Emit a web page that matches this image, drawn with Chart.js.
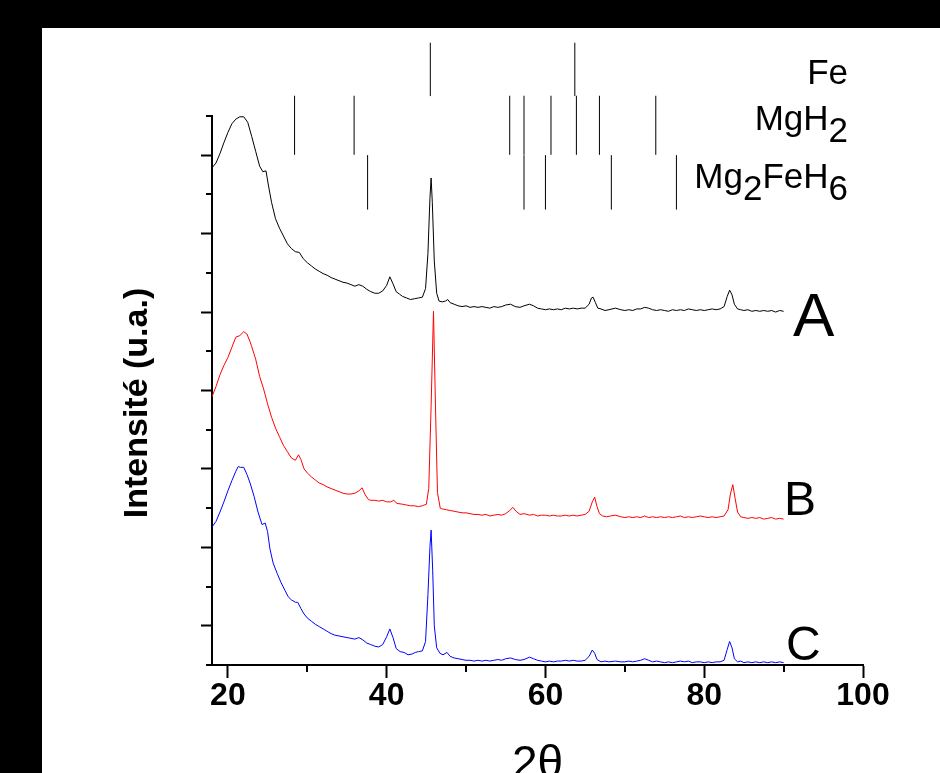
<!DOCTYPE html>
<html>
<head>
<meta charset="utf-8">
<script src="https://cdn.jsdelivr.net/npm/chart.js"></script>
<style>
  html, body { margin: 0; padding: 0; background: #000; width: 940px; height: 773px; overflow: hidden; }
  #frame { position: absolute; left: 42px; top: 28px; width: 898px; height: 745px; background: #fff; }
  canvas { display: block; }
</style>
</head>
<body>
<div id="frame"><canvas id="xrd" width="898" height="745"></canvas></div>
<script>
// XRD patterns (2-theta in degrees, stacked intensity in arbitrary units)
const aX = [18.0,18.5,19.0,19.5,20.0,20.5,21.0,21.5,22.0,22.5,23.0,23.5,24.0,24.4,24.8,25.1,25.5,26.0,26.5,27.0,27.5,28.0,28.5,29.0,29.5,30.0,30.5,31.0,31.5,32.0,32.5,33.0,33.5,34.0,34.5,35.0,35.5,36.0,36.5,37.0,37.5,38.0,38.5,39.0,39.5,40.0,40.4,40.8,41.2,41.6,42.0,42.5,43.0,43.5,44.0,44.5,44.9,45.2,45.45,45.6,45.75,46.0,46.3,46.6,47.0,47.4,47.7,48.0,48.5,49.0,49.5,50.0,50.5,51.0,51.5,52.0,52.5,53.0,53.5,54.0,54.5,55.0,55.6,56.2,56.8,57.3,58.0,58.5,59.0,59.5,60.0,60.5,61.0,61.5,62.0,62.5,63.0,63.5,64.0,64.5,65.0,65.5,65.8,66.0,66.3,66.6,67.0,67.5,68.0,68.8,69.5,70.0,70.5,71.0,71.5,72.0,72.5,73.0,73.5,74.0,74.5,75.0,75.5,76.0,76.5,77.0,77.5,78.0,78.5,79.0,79.5,80.0,80.5,81.0,81.5,82.0,82.5,82.9,83.2,83.5,83.8,84.2,84.6,85.0,85.5,86.0,86.5,87.0,87.5,88.0,88.5,89.0,89.5,90.0];
const aY = [5.84,5.90,6.02,6.16,6.29,6.40,6.46,6.49,6.49,6.42,6.24,6.05,5.86,5.79,5.80,5.62,5.40,5.19,5.07,4.97,4.87,4.81,4.77,4.76,4.68,4.63,4.59,4.55,4.52,4.49,4.47,4.44,4.42,4.40,4.38,4.37,4.35,4.33,4.35,4.33,4.29,4.26,4.24,4.24,4.27,4.34,4.45,4.36,4.26,4.23,4.20,4.18,4.16,4.17,4.18,4.19,4.30,4.75,5.45,5.71,5.40,4.65,4.24,4.14,4.13,4.14,4.16,4.12,4.10,4.08,4.07,4.08,4.06,4.07,4.06,4.07,4.06,4.05,4.07,4.06,4.07,4.09,4.10,4.07,4.06,4.08,4.10,4.08,4.05,4.04,4.03,4.04,4.03,4.04,4.03,4.05,4.04,4.05,4.04,4.05,4.05,4.10,4.18,4.19,4.12,4.05,4.04,4.02,4.03,4.05,4.03,4.02,4.03,4.02,4.04,4.04,4.06,4.05,4.03,4.02,4.03,4.02,4.01,4.03,4.02,4.03,4.02,4.04,4.03,4.02,4.03,4.02,4.03,4.04,4.03,4.04,4.07,4.20,4.28,4.22,4.10,4.04,4.03,4.02,4.03,4.01,4.02,4.01,4.02,4.01,4.02,4.00,4.02,4.01];

const bX = [18.0,18.5,19.0,19.5,20.0,20.5,21.0,21.5,22.0,22.4,22.8,23.0,23.5,24.0,24.5,25.0,25.5,26.0,26.5,27.0,27.5,28.0,28.5,28.9,29.2,29.6,30.0,30.5,31.0,31.5,32.0,32.5,33.0,33.5,34.0,34.5,35.0,35.5,36.0,36.5,36.9,37.3,37.7,38.0,38.5,39.0,39.5,40.0,40.5,40.9,41.3,42.0,42.5,43.0,43.5,44.0,44.5,45.0,45.3,45.6,45.9,46.15,46.4,46.75,47.0,47.5,48.0,48.5,49.0,49.5,50.0,50.5,51.0,51.5,52.0,52.5,53.0,53.5,54.0,54.5,55.0,55.5,55.9,56.3,56.8,57.3,58.0,58.5,59.0,59.5,60.0,60.5,61.0,61.5,62.0,62.5,63.0,63.5,64.0,64.5,65.0,65.5,65.9,66.2,66.5,66.8,67.2,67.7,68.2,68.8,69.5,70.0,70.5,71.0,71.5,72.0,72.5,73.0,73.5,74.0,74.5,75.0,75.5,76.0,76.5,77.0,77.5,78.0,78.5,79.0,79.5,80.0,80.5,81.0,81.5,82.0,82.5,83.0,83.3,83.6,83.9,84.2,84.6,85.0,85.5,86.0,86.5,87.0,87.5,88.0,88.5,89.0,89.5,90.0];
const bY = [2.92,3.05,3.20,3.32,3.42,3.55,3.68,3.70,3.75,3.72,3.62,3.56,3.40,3.18,3.02,2.83,2.66,2.52,2.41,2.30,2.22,2.14,2.11,2.18,2.12,2.00,1.95,1.90,1.86,1.82,1.80,1.77,1.75,1.73,1.71,1.69,1.68,1.68,1.69,1.72,1.76,1.67,1.61,1.60,1.60,1.59,1.60,1.58,1.58,1.60,1.56,1.55,1.54,1.53,1.53,1.52,1.53,1.55,1.75,2.80,4.01,2.80,1.70,1.50,1.49,1.48,1.47,1.46,1.45,1.44,1.44,1.43,1.42,1.42,1.41,1.42,1.40,1.41,1.42,1.41,1.43,1.47,1.51,1.46,1.42,1.43,1.41,1.42,1.40,1.41,1.41,1.40,1.41,1.40,1.40,1.41,1.40,1.41,1.40,1.41,1.42,1.46,1.58,1.64,1.52,1.43,1.40,1.39,1.40,1.41,1.39,1.38,1.39,1.38,1.39,1.38,1.40,1.38,1.39,1.38,1.39,1.38,1.39,1.38,1.39,1.40,1.38,1.39,1.38,1.39,1.40,1.39,1.38,1.39,1.38,1.39,1.40,1.48,1.68,1.80,1.62,1.45,1.39,1.38,1.37,1.38,1.37,1.38,1.36,1.37,1.38,1.36,1.37,1.36];

const cX = [18.0,18.5,19.0,19.5,20.0,20.5,21.0,21.3,21.6,22.0,22.4,22.8,23.3,23.8,24.3,24.7,25.0,25.3,25.7,26.2,26.7,27.2,27.6,28.0,28.5,28.8,29.2,29.6,30.0,30.5,31.0,31.5,32.0,32.5,33.0,33.5,34.0,34.5,35.0,35.5,36.0,36.5,37.0,37.5,38.0,38.5,39.0,39.5,40.0,40.4,40.8,41.2,41.7,42.2,42.7,43.2,43.6,44.0,44.5,44.9,45.2,45.45,45.6,45.8,46.0,46.3,46.7,47.1,47.6,48.0,48.5,49.0,49.5,50.0,50.5,51.0,51.5,52.0,52.5,53.0,53.5,54.0,54.5,55.0,55.6,56.2,56.8,57.3,58.0,58.5,59.0,59.5,60.0,60.5,61.0,61.5,62.0,62.5,63.0,63.5,64.0,64.5,65.0,65.5,65.9,66.2,66.5,67.0,67.5,68.0,68.8,69.5,70.0,70.5,71.0,71.5,72.0,72.5,73.0,73.5,74.0,74.5,75.0,75.5,76.0,76.5,77.0,77.5,78.0,78.5,79.0,79.5,80.0,80.5,81.0,81.5,82.0,82.5,82.9,83.2,83.5,83.8,84.2,84.6,85.0,85.5,86.0,86.5,87.0,87.5,88.0,88.5,89.0,89.5,90.0];
const cY = [1.26,1.33,1.45,1.58,1.72,1.85,1.97,2.03,2.02,2.02,1.93,1.82,1.65,1.45,1.29,1.31,1.20,0.98,0.80,0.67,0.55,0.45,0.37,0.33,0.30,0.30,0.22,0.15,0.10,0.06,0.02,-0.01,-0.04,-0.07,-0.10,-0.12,-0.13,-0.14,-0.15,-0.16,-0.17,-0.15,-0.18,-0.22,-0.24,-0.26,-0.27,-0.24,-0.14,-0.04,-0.15,-0.29,-0.33,-0.34,-0.37,-0.36,-0.34,-0.33,-0.32,-0.20,0.40,1.00,1.22,0.70,0.00,-0.28,-0.35,-0.37,-0.34,-0.39,-0.41,-0.42,-0.43,-0.44,-0.44,-0.45,-0.44,-0.45,-0.44,-0.45,-0.44,-0.43,-0.44,-0.42,-0.41,-0.43,-0.44,-0.43,-0.40,-0.42,-0.44,-0.45,-0.46,-0.45,-0.46,-0.45,-0.45,-0.44,-0.45,-0.44,-0.45,-0.45,-0.44,-0.39,-0.31,-0.35,-0.43,-0.46,-0.45,-0.46,-0.45,-0.46,-0.46,-0.45,-0.46,-0.45,-0.44,-0.42,-0.44,-0.46,-0.45,-0.46,-0.47,-0.46,-0.47,-0.46,-0.45,-0.46,-0.45,-0.47,-0.46,-0.46,-0.47,-0.46,-0.47,-0.46,-0.46,-0.44,-0.30,-0.20,-0.28,-0.42,-0.46,-0.45,-0.47,-0.46,-0.47,-0.46,-0.47,-0.46,-0.47,-0.46,-0.47,-0.46,-0.47];

// Reference reflection positions (2-theta) for each phase
const feLines = [45.5, 63.7];
const mgh2Lines = [28.4, 35.9, 55.5, 57.3, 60.7, 63.9, 66.8, 73.9];
const mg2feh6Lines = [37.6, 57.3, 60.0, 68.3, 76.5];

// Axis ticks
const xMajorTicks = [20, 40, 60, 80, 100];
const xMinorTicks = [30, 50, 70, 90];
const yMajorTicks = [0, 1, 2, 3, 4, 5, 6];
const yMinorTicks = [-0.5, 0.5, 1.5, 2.5, 3.5, 4.5, 5.5, 6.5];

const sampleNames = ['A', 'B', 'C'];
const FONT = "'Liberation Sans', Arial, Helvetica, sans-serif";

const toPoints = (xs, ys) => xs.map((x, i) => ({ x: x, y: ys[i] }));

// vertical sticks between two heights, separated by gaps
const sticks = (positions, lo, hi) => {
  const pts = [];
  positions.forEach(p => { pts.push({ x: p, y: lo }, { x: p, y: hi }, { x: p, y: null }); });
  return pts;
};

const curve = (label, pts, color) => ({
  label: label, data: pts, borderColor: color, borderWidth: 1,
  pointRadius: 0, tension: 0, fill: false
});
const stickSet = (label, pts) => ({
  label: label, data: pts, borderColor: '#000', borderWidth: 1,
  pointRadius: 0, tension: 0, fill: false, spanGaps: false, clip: false
});

// Minor ticks and free text: phase names, sample letters, intensity label
const decor = {
  id: 'decor',
  afterDraw(chart) {
    const { ctx, chartArea: ca, scales: { x, y } } = chart;
    ctx.save();
    ctx.strokeStyle = '#000';
    ctx.lineWidth = 2;
    ctx.beginPath();
    xMinorTicks.forEach(v => {
      const px = Math.round(x.getPixelForValue(v));
      ctx.moveTo(px, ca.bottom);
      ctx.lineTo(px, ca.bottom + 7);
    });
    yMinorTicks.forEach(v => {
      const py = Math.round(y.getPixelForValue(v));
      ctx.moveTo(ca.left + 1, py);
      ctx.lineTo(ca.left - 6, py);
    });
    ctx.stroke();

    ctx.fillStyle = '#000';
    ctx.textBaseline = 'alphabetic';

    // phase names with lowered indices, right aligned
    const drawFormula = (parts, right, base, size) => {
      ctx.font = size + 'px ' + FONT;
      let total = 0;
      parts.forEach(p => { total += ctx.measureText(p[0]).width; });
      let cx = right - total;
      ctx.textAlign = 'left';
      parts.forEach(p => {
        ctx.fillText(p[0], cx, base + (p[1] ? 12 : 0));
        cx += ctx.measureText(p[0]).width;
      });
    };
    drawFormula([['Fe', 0]], 806, 56, 35);
    drawFormula([['MgH', 0], ['2', 1]], 806, 102, 35);
    drawFormula([['Mg', 0], ['2', 1], ['FeH', 0], ['6', 1]], 806, 160, 35);

    // sample letters
    ctx.textAlign = 'left';
    ctx.font = '62px ' + FONT;
    ctx.fillText(sampleNames[0], 751, 308);
    ctx.font = '48px ' + FONT;
    ctx.fillText(sampleNames[1], 742, 487);
    ctx.fillText(sampleNames[2], 744, 632);

    // intensity axis label
    ctx.translate(96, 375);
    ctx.rotate(-Math.PI / 2);
    ctx.textAlign = 'center';
    ctx.textBaseline = 'middle';
    ctx.font = 'bold 34px ' + FONT;
    ctx.fillText('Intensité (u.a.)', 0, 0);
    ctx.restore();
  }
};

new Chart(document.getElementById('xrd').getContext('2d'), {
  type: 'line',
  data: {
    datasets: [
      curve('A', toPoints(aX, aY), '#000000'),
      curve('B', toPoints(bX, bY), '#ff0000'),
      curve('C', toPoints(cX, cY), '#0000ff'),
      stickSet('Fe', sticks(feLines, 6.754, 7.434)),
      stickSet('MgH2', sticks(mgh2Lines, 6.005, 6.758)),
      stickSet('Mg2FeH6', sticks(mg2feh6Lines, 5.307, 6.001))
    ]
  },
  options: {
    responsive: false,
    animation: false,
    events: [],
    layout: { padding: { left: 0, top: 88, right: 77, bottom: 0 } },
    plugins: { legend: { display: false }, tooltip: { enabled: false } },
    scales: {
      x: {
        type: 'linear', min: 18, max: 100, position: 'bottom',
        afterBuildTicks: s => { s.ticks = xMajorTicks.map(v => ({ value: v })); },
        afterFit: s => { s.height = 108; },
        grid: { drawOnChartArea: false, drawTicks: true, tickLength: 13, tickWidth: 2, tickColor: '#000' },
        border: { display: true, color: '#000', width: 2 },
        ticks: {
          autoSkip: false, maxRotation: 0, padding: -1, color: '#000',
          font: { family: FONT, weight: 'bold', size: 32 }
        },
        title: {
          display: true, text: '2θ', color: '#000',
          font: { family: FONT, size: 46 },
          padding: { top: 0, bottom: -20 }
        }
      },
      y: {
        type: 'linear', min: -0.5, max: 6.5, position: 'left',
        afterBuildTicks: s => { s.ticks = yMajorTicks.map(v => ({ value: v })); },
        afterFit: s => { s.width = 170; },
        grid: { drawOnChartArea: false, drawTicks: true, tickLength: 11, tickWidth: 2, tickColor: '#000' },
        border: { display: true, color: '#000', width: 2 },
        ticks: { display: false }
      }
    }
  },
  plugins: [decor]
});
</script>
</body>
</html>
